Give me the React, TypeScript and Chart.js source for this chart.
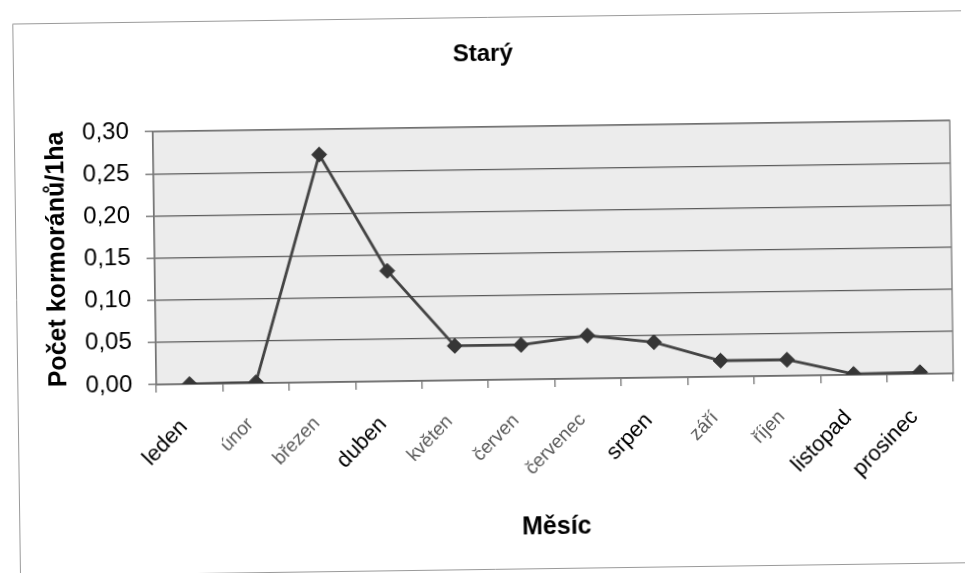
import React, { useEffect, useRef } from "react";
import { Chart, registerables } from "chart.js";

Chart.register(...registerables);

// Monthly cormorant density at the "Starý" pond
const months = [
  "leden",
  "únor",
  "březen",
  "duben",
  "květen",
  "červen",
  "červenec",
  "srpen",
  "září",
  "říjen",
  "listopad",
  "prosinec",
];
const density = [0, 0.001, 0.27, 0.131, 0.041, 0.041, 0.051, 0.042, 0.019, 0.019, 0.001, 0.002];
const yTickValues = [0, 0.05, 0.1, 0.15, 0.2, 0.25, 0.3];

const chartTitle = "Starý";
const yAxisTitle = "Počet kormoránů/1ha";
const xAxisTitle = "Měsíc";

const FONT = "'Liberation Sans', Arial, Helvetica, sans-serif";
const hasAccents = (s: string) => /[^\x00-\x7F]/.test(s);

// Page background, outer frame and the shaded plot area
const framePlugin = {
  id: "frame",
  beforeDraw(chart: any) {
    const { ctx, width, height, chartArea } = chart;
    ctx.save();
    ctx.fillStyle = "#ffffff";
    ctx.fillRect(0, 0, width, height);
    ctx.strokeStyle = "#9a9a9a";
    ctx.lineWidth = 1;
    ctx.beginPath();
    ctx.moveTo(width + 2, 17.5);
    ctx.lineTo(16.5, 17.5);
    ctx.lineTo(16.5, 569.5);
    ctx.lineTo(width + 2, 569.5);
    ctx.stroke();
    ctx.fillStyle = "#ececec";
    ctx.fillRect(chartArea.left, chartArea.top, chartArea.right - chartArea.left, chartArea.bottom - chartArea.top);
    ctx.restore();
  },
  beforeDatasetsDraw(chart: any) {
    const { ctx, chartArea } = chart;
    ctx.save();
    ctx.strokeStyle = "#7a7a7a";
    ctx.lineWidth = 1.3;
    ctx.strokeRect(chartArea.left, chartArea.top, chartArea.right - chartArea.left, chartArea.bottom - chartArea.top);
    ctx.restore();
  },
};

export default function App() {
  const canvasRef = useRef<HTMLCanvasElement | null>(null);

  useEffect(() => {
    const canvas = canvasRef.current;
    if (!canvas) return;
    const chart = new Chart(canvas, {
      type: "line",
      data: {
        labels: months,
        datasets: [
          {
            data: density,
            borderColor: "#444444",
            borderWidth: 2.8,
            pointStyle: "rectRot",
            pointRadius: 7.5,
            pointBackgroundColor: "#363636",
            pointBorderColor: "#363636",
            pointBorderWidth: 1,
            tension: 0,
          },
        ],
      },
      options: {
        responsive: false,
        animation: false,
        layout: { padding: { left: 20, right: 13, top: 0, bottom: 0 } },
        plugins: {
          legend: { display: false },
          tooltip: { enabled: false },
          title: {
            display: true,
            text: chartTitle,
            color: "#000",
            font: { family: FONT, size: 24, weight: "bold" },
            padding: { top: 40, bottom: 58.2 },
          },
        },
        scales: {
          x: {
            offset: true,
            grid: {
              offset: true,
              drawOnChartArea: false,
              drawTicks: true,
              tickLength: 8,
              color: "#6a6a6a",
              tickColor: "#6a6a6a",
              lineWidth: 1.2,
            },
            border: { display: true, color: "#555", width: 1.5 },
            ticks: {
              autoSkip: false,
              maxRotation: 45,
              minRotation: 45,
              padding: 22,
              labelOffset: -6,
              color: (c: any) => (hasAccents(months[c.index] || "") ? "#5a5a5a" : "#000"),
              font: (c: any) => ({
                family: FONT,
                size: hasAccents(months[c.index] || "") ? 19 : 22,
              }),
            },
            title: {
              display: true,
              text: xAxisTitle,
              color: "#000",
              font: { family: FONT, size: 25, weight: "bold" },
              padding: { top: 0, bottom: 30 },
            },
            afterFit: (scale: any) => {
              scale.height = 193;
            },
          },
          y: {
            min: 0,
            max: 0.3,
            afterBuildTicks: (scale: any) => {
              scale.ticks = yTickValues.map((v) => ({ value: v }));
            },
            grid: {
              color: "#5a5a5a",
              tickColor: "#6a6a6a",
              lineWidth: 1.3,
              drawTicks: true,
              tickLength: 8,
            },
            border: { display: true, color: "#6a6a6a", width: 1.3 },
            ticks: {
              padding: 16,
              color: "#000",
              font: { family: FONT, size: 24 },
              callback: (v: any) => Number(v).toFixed(2).replace(".", ","),
            },
            title: {
              display: true,
              text: yAxisTitle,
              color: "#000",
              font: { family: FONT, size: 25, weight: "bold" },
              padding: { top: 23.3, bottom: 0 },
            },
            afterFit: (scale: any) => {
              scale.width = 135;
            },
          },
        },
      },
      plugins: [framePlugin],
    });
    return () => chart.destroy();
  }, []);

  return (
    <div
      style={{
        position: "absolute",
        left: 0,
        top: 0,
        width: 965,
        height: 573,
        transform: "rotate(-0.8deg)",
        transformOrigin: "50% 50%",
      }}
    >
      <canvas ref={canvasRef} width={965} height={573} style={{ display: "block" }} />
    </div>
  );
}
